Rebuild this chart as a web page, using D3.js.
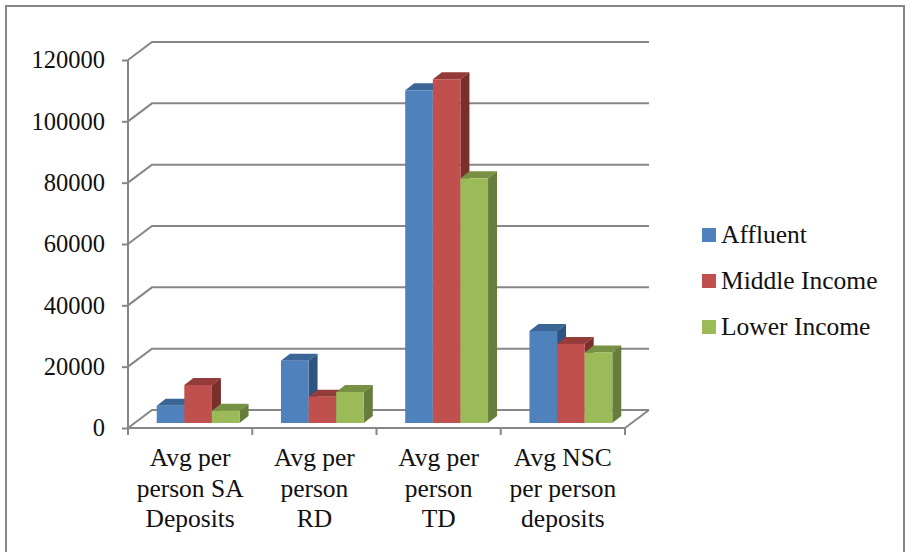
<!DOCTYPE html>
<html>
<head>
<meta charset="utf-8">
<style>
  html, body { margin: 0; padding: 0; background: #fff; }
  svg { display: block; }
  text { font-family: "Liberation Serif", serif; fill: #111; }
  .axis path { display: none; }
  .axis line { stroke: #868686; stroke-width: 2px; }
  .grid { stroke: #868686; stroke-width: 2px; fill: none; }
</style>
</head>
<body>
<script src="https://d3js.org/d3.v7.min.js"></script>
<script>
var categories = [
  ["Avg per", "person SA", "Deposits"],
  ["Avg per", "person", "RD"],
  ["Avg per", "person", "TD"],
  ["Avg NSC", "per person", "deposits"]
];
var seriesNames = ["Affluent", "Middle Income", "Lower Income"];
var affluent = [5600, 20300, 108500, 30000];
var middleIncome = [12400, 8600, 112100, 25800];
var lowerIncome = [4000, 10100, 79800, 23000];
var seriesValues = [affluent, middleIncome, lowerIncome];
var yTicks = [0, 20000, 40000, 60000, 80000, 100000, 120000];

var frontColors = ["#4f81bd", "#c0504d", "#9bbb59"];
var topColors = ["#3a6595", "#933c3a", "#779043"];
var sideColors = ["#2f5481", "#7b2f2d", "#677d3b"];

var width = 908, height = 552;
var left = 128, right = 625, top0 = 60, bottom = 428;
var wallX = 24, wallY = 18;      // depth of the back wall
var barDepthX = 9, barDepthY = 7;
var barShiftX = 8, barShiftY = 5;

var svg = d3.select("body").append("svg")
    .attr("width", width)
    .attr("height", height);

svg.append("rect")
    .attr("x", 6).attr("y", 6)
    .attr("width", 898).attr("height", 560)
    .attr("fill", "#fff")
    .attr("stroke", "#868686")
    .attr("stroke-width", 2);

var x = d3.scaleBand().domain(d3.range(categories.length)).range([left, right]);
var x1 = d3.scaleBand().domain(d3.range(seriesNames.length))
    .range([0, x.bandwidth()]).paddingInner(0).paddingOuter(0.75);
var y = d3.scaleLinear().domain([0, 120000]).range([bottom, top0]);

// back wall and side wall lines
var grid = svg.append("g").attr("class", "grid");
grid.selectAll("path.wall")
    .data(yTicks)
    .join("path")
    .attr("class", "wall")
    .attr("d", d => `M${left},${y(d)}L${left + wallX},${y(d) - wallY}L${right + wallX},${y(d) - wallY}`);
// floor edge on the right
grid.append("path")
    .attr("d", `M${right},${bottom}L${right + wallX},${bottom - wallY}`);

var yAxis = svg.append("g")
    .attr("class", "axis")
    .attr("transform", `translate(${left},0)`)
    .call(d3.axisLeft(y).tickValues(yTicks).tickSize(6).tickFormat(d3.format("d")).tickPadding(17));
yAxis.selectAll("text").attr("font-size", 24.5).attr("dy", "0.32em");
yAxis.append("line").attr("y1", top0).attr("y2", bottom);

var xAxis = svg.append("g")
    .attr("class", "axis")
    .attr("transform", `translate(0,${bottom})`);
xAxis.append("line").attr("x1", left).attr("x2", right);
xAxis.selectAll("line.tick")
    .data(d3.range(categories.length + 1))
    .join("line")
    .attr("class", "tick")
    .attr("x1", d => left + d * x.step())
    .attr("x2", d => left + d * x.step())
    .attr("y2", 7);

var labels = svg.append("g").selectAll("text")
    .data(categories)
    .join("text")
    .attr("text-anchor", "middle")
    .attr("font-size", 25.5);
labels.selectAll("tspan")
    .data((d, i) => d.map(t => ({ t: t, i: i })))
    .join("tspan")
    .attr("x", d => x(d.i) + x.bandwidth() / 2)
    .attr("y", (d, j) => 466 + j * 30.5)
    .text(d => d.t);

// bars: one group per category, later series painted over earlier ones
var bars = svg.append("g").selectAll("g")
    .data(categories)
    .join("g")
    .attr("transform", (d, i) => `translate(${x(i) + barShiftX},${-barShiftY})`);

var w = x1.bandwidth();
seriesNames.forEach(function (name, s) {
  var bar = bars.append("g");
  bar.append("path")
      .attr("fill", topColors[s])
      .attr("d", (d, i) => {
        var bx = x1(s), by = y(seriesValues[s][i]);
        return `M${bx},${by}l${barDepthX},${-barDepthY}h${w}l${-barDepthX},${barDepthY}Z`;
      });
  bar.append("path")
      .attr("fill", sideColors[s])
      .attr("d", (d, i) => {
        var bx = x1(s) + w, by = y(seriesValues[s][i]);
        return `M${bx},${by}l${barDepthX},${-barDepthY}V${bottom - barDepthY}L${bx},${bottom}Z`;
      });
  bar.append("rect")
      .attr("fill", frontColors[s])
      .attr("x", x1(s))
      .attr("y", (d, i) => y(seriesValues[s][i]))
      .attr("width", w)
      .attr("height", (d, i) => bottom - y(seriesValues[s][i]));
});

// legend
var legend = svg.append("g").selectAll("g")
    .data(seriesNames)
    .join("g")
    .attr("transform", (d, i) => `translate(702,${235 + i * 46})`);
legend.append("rect")
    .attr("y", -7).attr("width", 14).attr("height", 14)
    .attr("fill", (d, i) => frontColors[i]);
legend.append("text")
    .attr("x", 19)
    .attr("dy", "0.32em")
    .attr("font-size", 25.5)
    .text(d => d);
</script>
</body>
</html>
